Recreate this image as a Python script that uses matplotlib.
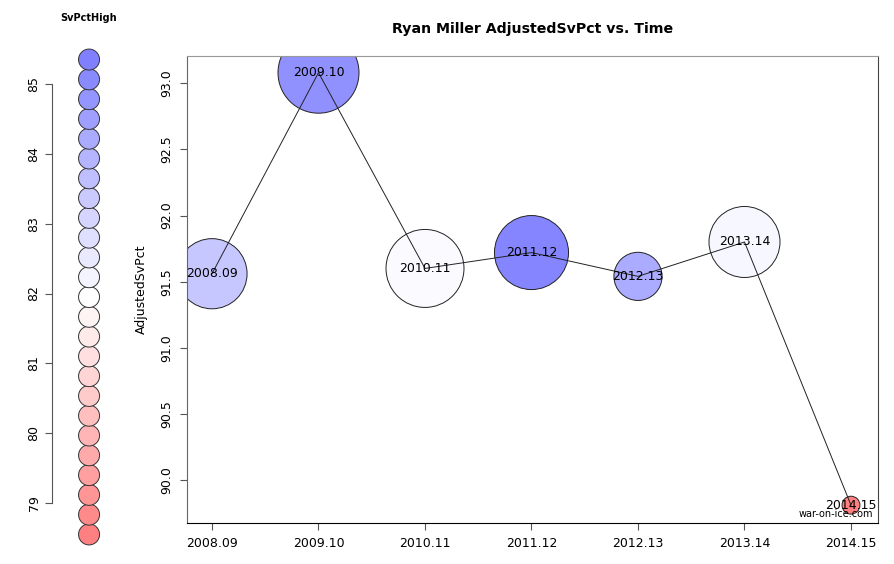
import matplotlib
matplotlib.use("Agg")
import matplotlib.pyplot as plt
import numpy as np

# season labels and values
seasons = ["2008.09", "2009.10", "2010.11", "2011.12", "2012.13", "2013.14", "2014.15"]
adj_svpct = [91.56, 93.08, 91.60, 91.72, 91.54, 91.80, 89.81]
svpct_high = [83.45, 84.9, 82.05, 85.2, 84.2, 82.15, 78.5]
volume = [12.3, 16.4, 15.2, 13.7, 5.8, 12.6, 0.8]   # bubble area, relative

# colour key
key_lo, key_hi, key_n = 78.55, 85.35, 25
key_ticks = [79, 80, 81, 82, 83, 84, 85]

W, H, DPI = 895, 564, 100
MID, HALF = 81.95, 3.4


def colour(v):
    t = float(np.clip((v - MID) / HALF, -1, 1))
    if t >= 0:
        return (1 - 0.5 * t, 1 - 0.5 * t, 1.0)
    return (1.0, 1 + 0.5 * t, 1 + 0.5 * t)


def rect(l, t, r, b):
    return [l / W, 1 - b / H, (r - l) / W, (b - t) / H]


def px_area(r_px):
    return (2 * r_px * 72 / DPI) ** 2


fig = plt.figure(figsize=(W / DPI, H / DPI), dpi=DPI)

# ---- colour key panel ----
lax = fig.add_axes(rect(51.7, 30, 150, 560))
ppu = (503 - 84) / 6.0
lax.set_ylim(79 - (560 - 503) / ppu, 85 + (84 - 30) / ppu)
lax.set_xlim(0, 1)
key_vals = np.linspace(key_lo, key_hi, key_n)
lax.scatter([0.38] * key_n, key_vals, s=px_area(10.5),
            c=[colour(v) for v in key_vals], edgecolors="#333333",
            linewidths=0.7, clip_on=False, zorder=3)
for s in ["top", "right", "bottom"]:
    lax.spines[s].set_visible(False)
lax.spines["left"].set_bounds(79, 85)
lax.spines["left"].set_color("#555555")
lax.set_xticks([])
lax.set_yticks(key_ticks)
lax.set_yticklabels([str(t) for t in key_ticks], rotation=90, va="center", fontsize=9)
lax.tick_params(axis="y", length=5, color="#555555", pad=3)
fig.text(89 / W, 1 - 18 / H, "SvPctHigh", ha="center", va="center",
         fontsize=7, fontweight="bold")

# ---- main bubble panel ----
ax = fig.add_axes(rect(187, 55.7, 877.7, 522.7))
x = np.arange(1, len(seasons) + 1)
ax.set_xlim(1 - 25 / 106.5, 7 + 26.7 / 106.5)
ppu_y = 132.4
ax.set_ylim(90 - (522.7 - 480) / ppu_y, 93 + (83.3 - 55.7) / ppu_y)

rmax = 40.5
radii = [rmax * np.sqrt(v / max(volume)) for v in volume]
ax.scatter(x, adj_svpct, s=[px_area(r) for r in radii],
           c=[colour(v) for v in svpct_high], edgecolors="#222222",
           linewidths=0.7, zorder=2)
ax.plot(x, adj_svpct, color="#222222", lw=0.7, zorder=3)
for xi, yi, lab in zip(x, adj_svpct, seasons):
    ax.text(xi, yi, lab, ha="center", va="center", fontsize=9, zorder=4)

ax.text(0.993, 0.008, "war-on-ice.com", transform=ax.transAxes,
        ha="right", va="bottom", fontsize=7)

ax.set_xticks(x)
ax.set_xticklabels(seasons, fontsize=9)
ax.set_yticks([90.0, 90.5, 91.0, 91.5, 92.0, 92.5, 93.0])
ax.set_yticklabels(["90.0", "90.5", "91.0", "91.5", "92.0", "92.5", "93.0"],
                   rotation=90, va="center", fontsize=9)
ax.tick_params(length=5, color="#555555", pad=5)
ax.spines["top"].set_color("#999999")
ax.spines["left"].set_color("#666666")
ax.spines["right"].set_color("#444444")
ax.spines["bottom"].set_color("black")
ax.set_ylabel("AdjustedSvPct", fontsize=9, labelpad=9)
ax.set_title("Ryan Miller AdjustedSvPct vs. Time", fontsize=10.2,
             fontweight="bold", pad=16)

fig.savefig("out.png", dpi=DPI)
